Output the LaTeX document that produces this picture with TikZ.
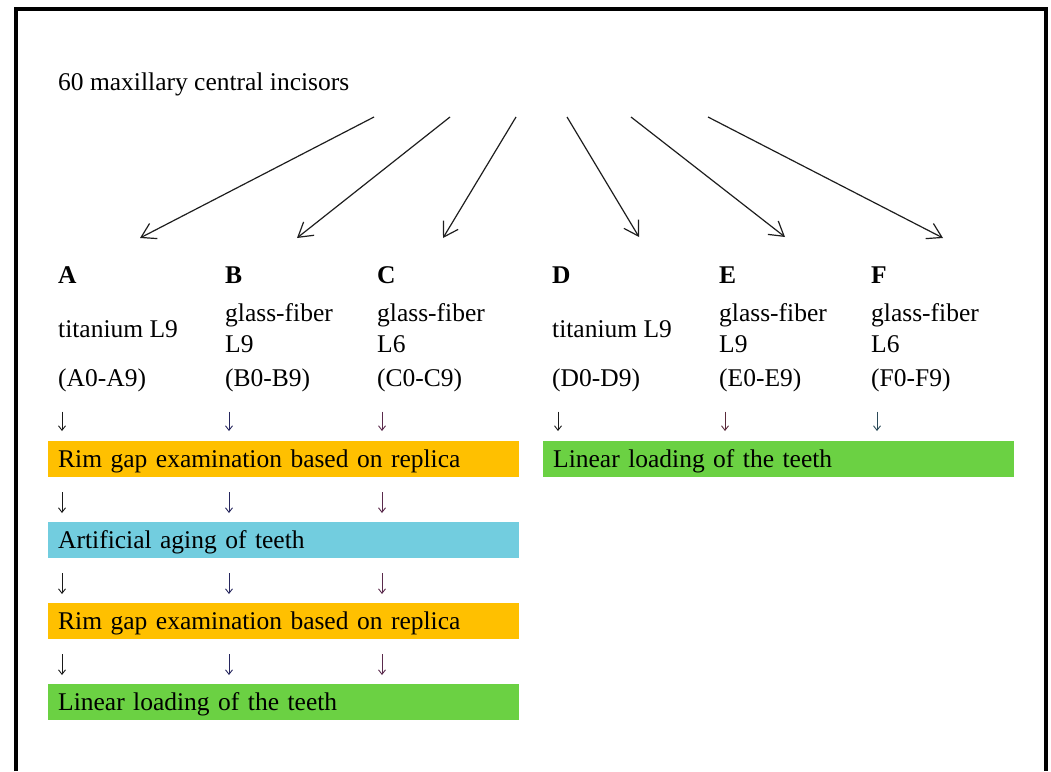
\documentclass[tikz,border=0pt]{standalone}
\usepackage{fontspec}
\setmainfont{Liberation Serif}
\usetikzlibrary{arrows.meta}
\definecolor{boxorange}{HTML}{FFC000}
\definecolor{boxcyan}{HTML}{72CDDF}
\definecolor{boxgreen}{HTML}{6BD143}
\definecolor{arrowgray}{HTML}{1E1E1E}
\definecolor{arrA}{HTML}{1A1A1A}
\definecolor{arrB}{HTML}{26265E}
\definecolor{arrC}{HTML}{5A2A4C}
\definecolor{arrE}{HTML}{5A2A3A}
\definecolor{arrF}{HTML}{2A4A58}
\begin{document}
\begin{tikzpicture}[x=1pt,y=-1pt,
  font=\fontsize{25.5}{31}\selectfont,
  txt/.style={anchor=base west, inner sep=0pt},
  hdr/.style={txt, font=\fontsize{25.5}{31}\selectfont\bfseries},
  multi/.style={txt, align=left},
  stepbox/.style={anchor=north west, minimum height=36pt, text width=451pt,
    inner xsep=10pt, inner ysep=0pt, align=left, text height=20pt, text depth=4pt},
  bigarrow/.style={-{Straight Barb[length=14pt,width=17pt]}, line width=1.2pt, draw=arrowgray},
  dn/.style={-{Straight Barb[length=4.5pt,width=7pt]}, line width=0.9pt},
  dnfirst/.style={dn, shorten <=20pt, shorten >=10pt},
  dnnext/.style={dn, shorten <=15pt, shorten >=9pt}
]
\useasboundingbox (0,0) rectangle (1051,771);
\draw[line width=4pt] (16,771) -- (16,9) -- (1046,9) -- (1046,771);

\node[txt] (title) at (58,90) {60 maxillary central incisors};

\coordinate (s1) at (374,117); \coordinate (e1) at (140,238);
\coordinate (s2) at (450,117); \coordinate (e2) at (297,238);
\coordinate (s3) at (516,117); \coordinate (e3) at (443,238);
\coordinate (s4) at (567,117); \coordinate (e4) at (639,237);
\coordinate (s5) at (631,117); \coordinate (e5) at (785,237);
\coordinate (s6) at (708,117); \coordinate (e6) at (943,238);
\foreach \i in {1,...,6} { \draw[bigarrow] (s\i) -- (e\i); }

\node[hdr] (hA) at (58,283) {A};
\node[hdr] (hB) at (225,283) {B};
\node[hdr] (hC) at (377,283) {C};
\node[hdr] (hD) at (552,283) {D};
\node[hdr] (hE) at (719,283) {E};
\node[hdr] (hF) at (871,283) {F};

\node[txt] (mA) at (58,337) {titanium L9};
\node[multi] (mB) at (225,352) {glass-fiber\\L9};
\node[multi] (mC) at (377,352) {glass-fiber\\L6};
\node[txt] (mD) at (552,337) {titanium L9};
\node[multi] (mE) at (719,352) {glass-fiber\\L9};
\node[multi] (mF) at (871,352) {glass-fiber\\L6};

\node[txt] (gA) at (58,386) {(A0-A9)};
\node[txt] (gB) at (225,386) {(B0-B9)};
\node[txt] (gC) at (377,386) {(C0-C9)};
\node[txt] (gD) at (552,386) {(D0-D9)};
\node[txt] (gE) at (719,386) {(E0-E9)};
\node[txt] (gF) at (871,386) {(F0-F9)};

\node[stepbox, fill=boxorange] (r1) at (48,441) {Rim gap examination based on replica};
\node[stepbox, fill=boxcyan] (r2) at (48,522) {Artificial aging of teeth};
\node[stepbox, fill=boxorange] (r3) at (48,603) {Rim gap examination based on replica};
\node[stepbox, fill=boxgreen] (r4) at (48,684) {Linear loading of the teeth};
\node[stepbox, fill=boxgreen] (rr) at (543,441) {Linear loading of the teeth};

\coordinate (cA) at (62,0);
\coordinate (cB) at (229,0);
\coordinate (cC) at (382,0);
\coordinate (cD) at (558,0);
\coordinate (cE) at (725,0);
\coordinate (cF) at (877,0);

\foreach \c/\col in {A/arrA,B/arrB,C/arrC} {
  \draw[dnfirst, \col] (g\c.south -| c\c) -- (r1.north -| c\c);
  \draw[dnnext, \col] (r1.south -| c\c) -- (r2.north -| c\c);
  \draw[dnnext, \col] (r2.south -| c\c) -- (r3.north -| c\c);
  \draw[dnnext, \col] (r3.south -| c\c) -- (r4.north -| c\c);
}
\foreach \c/\col in {D/arrA,E/arrE,F/arrF} {
  \draw[dnfirst, \col] (g\c.south -| c\c) -- (rr.north -| c\c);
}
\end{tikzpicture}
\end{document}
